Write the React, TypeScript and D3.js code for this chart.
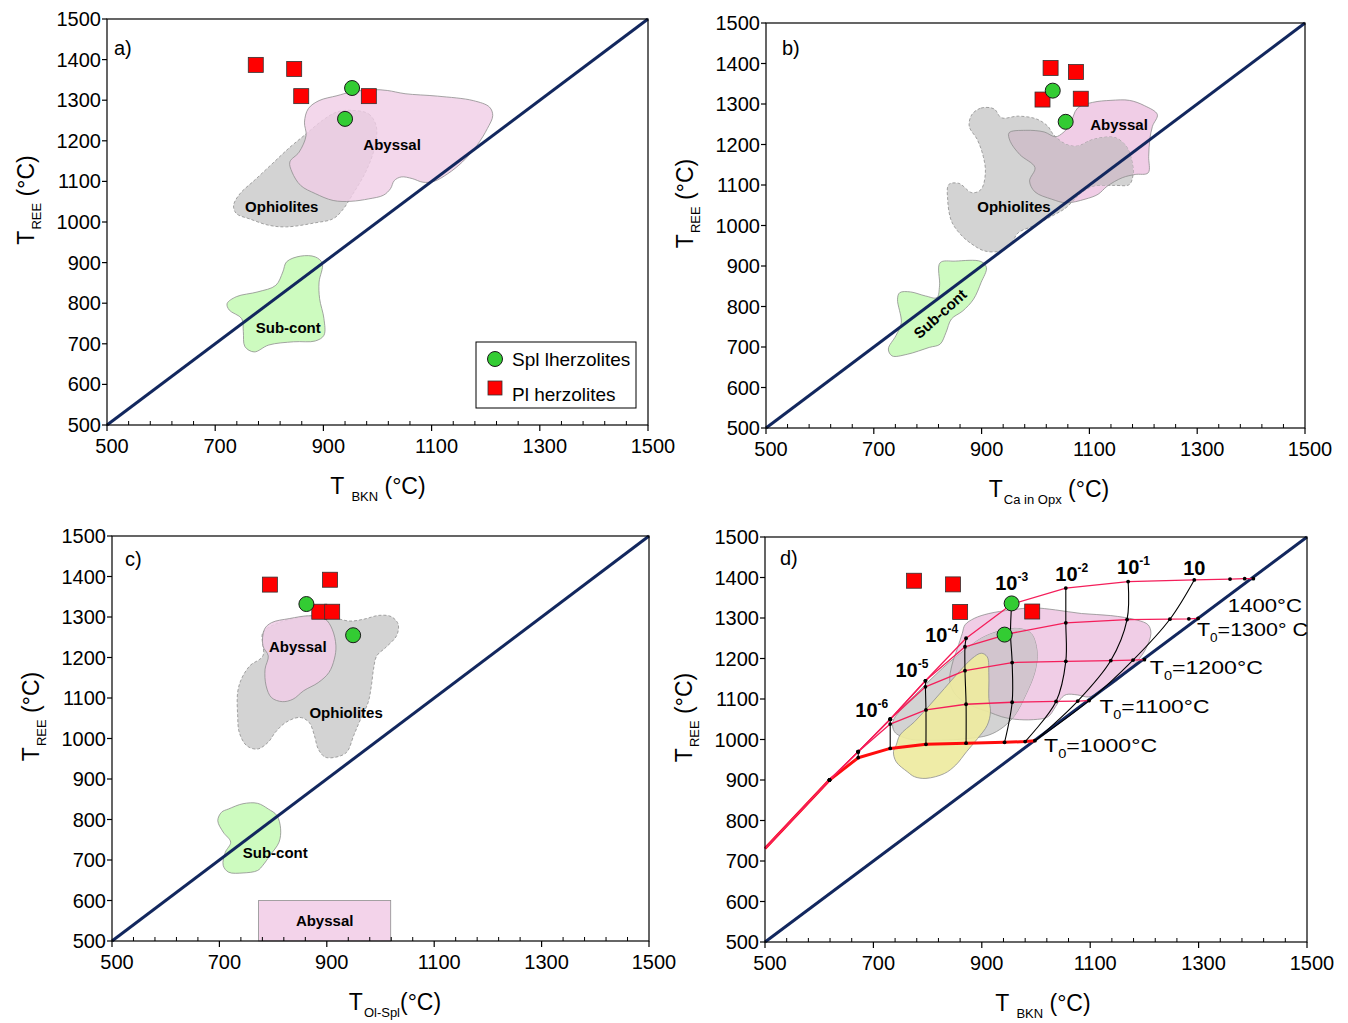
import React from "react";
import * as d3 from "d3";

type Pt = [number, number];

const FONT = "'Liberation Sans', Arial, Helvetica, sans-serif";

// axis ticks (°C)
const X_MAJOR = [500, 700, 900, 1100, 1300, 1500];
const X_MINOR = d3.range(500, 1501, 40).filter((v) => (v - 500) % 200 !== 0);
const Y_TICKS = d3.range(500, 1501, 100);

// samples [T_x, T_REE]
const A_SPL: Pt[] = [[953, 1330], [940, 1254]];
const A_PL: Pt[] = [[775, 1387], [846, 1377], [859, 1310], [984, 1310]];
const B_SPL: Pt[] = [[1032, 1333], [1056, 1256]];
const B_PL: Pt[] = [[1028, 1389], [1075, 1379], [1013, 1311], [1084, 1313]];
const C_SPL: Pt[] = [[862, 1332], [949, 1255]];
const C_PL: Pt[] = [[794, 1380], [906, 1392], [886, 1313], [910, 1313]];
const D_SPL: Pt[] = [[955, 1336], [942, 1259]];
const D_PL: Pt[] = [[775, 1392], [847, 1383], [860, 1315], [993, 1316]];

// fields, panel a
const A_ABYSSAL: Pt[] = [[868, 1213], [865, 1246], [872, 1279], [892, 1299], [925, 1311], [951, 1320], [991, 1326], [1018, 1324], [1051, 1316], [1111, 1310], [1177, 1299], [1207, 1283], [1213, 1262], [1203, 1230], [1184, 1189], [1157, 1148], [1130, 1119], [1104, 1100], [1084, 1098], [1064, 1107], [1044, 1111], [1031, 1102], [1024, 1082], [1011, 1066], [984, 1057], [951, 1051], [918, 1053], [885, 1070], [858, 1090], [842, 1123], [838, 1148], [855, 1172]];
const A_OPHIO: Pt[] = [[951, 1275], [984, 1266], [998, 1234], [994, 1180], [978, 1123], [955, 1070], [935, 1029], [918, 1008], [885, 998], [832, 988], [799, 992], [765, 1007], [739, 1021], [734, 1041], [746, 1070], [772, 1102], [805, 1143], [838, 1184], [868, 1217], [898, 1250], [925, 1271]];
const A_SUBCONT: Pt[] = [[832, 902], [858, 916], [885, 914], [898, 898], [892, 852], [893, 811], [901, 762], [901, 721], [885, 707], [845, 705], [799, 697], [772, 680], [755, 693], [752, 730], [749, 762], [726, 783], [722, 799], [739, 816], [779, 828], [812, 844], [825, 877]];

// fields, panel b
const B_OPHIO: Pt[] = [[882, 1274], [899, 1290], [923, 1288], [937, 1266], [968, 1270], [1002, 1263], [1023, 1245], [1033, 1225], [1057, 1200], [1078, 1196], [1106, 1212], [1147, 1217], [1168, 1196], [1178, 1163], [1181, 1126], [1174, 1101], [1147, 1099], [1106, 1097], [1078, 1073], [1057, 1044], [1030, 1023], [996, 999], [968, 982], [954, 954], [934, 937], [906, 937], [882, 954], [861, 978], [844, 1011], [837, 1065], [839, 1101], [858, 1104], [882, 1081], [899, 1089], [907, 1130], [903, 1171], [892, 1212], [877, 1245]];
const B_ABYSSAL: Pt[] = [[951, 1229], [982, 1235], [1016, 1231], [1037, 1219], [1051, 1229], [1064, 1249], [1078, 1290], [1106, 1304], [1140, 1309], [1174, 1309], [1202, 1296], [1226, 1274], [1217, 1245], [1212, 1212], [1210, 1171], [1209, 1130], [1185, 1126], [1161, 1118], [1133, 1097], [1116, 1077], [1092, 1065], [1057, 1056], [1030, 1065], [999, 1083], [989, 1110], [999, 1143], [971, 1175], [953, 1208]];
const B_SUBCONT: Pt[] = [[823, 908], [851, 912], [899, 911], [909, 896], [899, 859], [885, 818], [865, 789], [844, 769], [834, 736], [823, 707], [803, 699], [762, 682], [734, 678], [727, 695], [741, 728], [751, 760], [744, 818], [748, 834], [768, 836], [796, 826], [817, 822], [822, 851]];

// fields, panel c
const C_OPHIO: Pt[] = [[850, 1299], [877, 1303], [910, 1299], [943, 1290], [970, 1295], [997, 1304], [1020, 1301], [1033, 1282], [1030, 1254], [1010, 1225], [993, 1204], [987, 1171], [983, 1130], [977, 1089], [963, 1048], [950, 1007], [937, 966], [917, 954], [897, 954], [884, 974], [877, 1007], [867, 1040], [850, 1052], [824, 1040], [804, 1015], [791, 991], [771, 974], [751, 982], [737, 1015], [734, 1056], [734, 1114], [741, 1147], [757, 1180], [781, 1204], [781, 1262], [811, 1286]];
const C_ABYSSAL: Pt[] = [[784, 1270], [797, 1286], [830, 1296], [870, 1303], [897, 1295], [910, 1270], [917, 1229], [914, 1196], [904, 1163], [884, 1138], [857, 1118], [837, 1097], [817, 1091], [797, 1101], [787, 1130], [785, 1171], [791, 1204], [781, 1229]];
const C_SUBCONT: Pt[] = [[717, 826], [744, 839], [771, 840], [791, 826], [807, 810], [814, 777], [811, 744], [794, 711], [781, 687], [771, 674], [744, 668], [717, 670], [707, 687], [711, 719], [721, 744], [707, 769], [697, 797], [704, 818]];
const C_ABYSSAL_BOX: [Pt, Pt] = [[773, 500], [1019, 600]];

// fields, panel d
const D_ABYSSAL: Pt[] = [[869, 1283], [886, 1299], [913, 1311], [954, 1320], [995, 1325], [1036, 1320], [1084, 1311], [1138, 1306], [1186, 1295], [1207, 1283], [1212, 1262], [1203, 1225], [1186, 1192], [1162, 1159], [1138, 1134], [1118, 1118], [1097, 1105], [1077, 1110], [1056, 1111], [1046, 1101], [1036, 1081], [1022, 1056], [995, 1049], [961, 1050], [937, 1056], [913, 1068], [879, 1085], [852, 1110], [841, 1143], [845, 1184], [855, 1225], [864, 1262]];
const D_OPHIO: Pt[] = [[739, 1019], [736, 1044], [753, 1077], [783, 1118], [814, 1159], [841, 1192], [869, 1221], [899, 1250], [933, 1268], [968, 1274], [991, 1262], [1002, 1217], [998, 1167], [981, 1110], [961, 1060], [940, 1031], [913, 1011], [872, 1002], [817, 998], [763, 1002]];
const D_YELLOW: Pt[] = [[742, 986], [749, 1011], [776, 1044], [804, 1085], [831, 1126], [858, 1167], [882, 1200], [899, 1213], [910, 1204], [913, 1159], [913, 1101], [916, 1068], [910, 1035], [892, 1002], [872, 970], [852, 937], [831, 916], [797, 904], [776, 908], [763, 920], [742, 945], [737, 970]];

// panel d: cooling paths for initial temperature T0
const D_T0 = [1000, 1100, 1200, 1300, 1400];
const D_ISO: Pt[][] = [
  [[500, 731], [619, 900], [672, 955], [731, 978], [797, 988], [871, 991], [942, 993], [980, 995], [998, 997]],
  [[500, 731], [619, 900], [672, 970], [731, 1038], [797, 1073], [871, 1087], [956, 1092], [1037, 1094], [1077, 1095], [1098, 1096]],
  [[500, 731], [619, 900], [672, 970], [731, 1050], [796, 1130], [869, 1170], [956, 1190], [1055, 1193], [1138, 1195], [1179, 1196], [1200, 1197]],
  [[500, 731], [619, 900], [672, 970], [731, 1050], [796, 1145], [869, 1229], [953, 1262], [1055, 1288], [1168, 1296], [1247, 1297], [1282, 1298], [1299, 1299]],
  [[500, 731], [619, 900], [672, 970], [731, 1050], [796, 1145], [871, 1250], [955, 1334], [1055, 1374], [1170, 1390], [1292, 1394], [1358, 1396], [1385, 1397], [1401, 1397]],
];
// panel d: equal cooling-rate lines (°C/yr)
const D_RATE_EXP = ["-7", "-6", "-5", "-4", "-3", "-2", "-1", "1"];
const D_RATE: Pt[][] = [
  [[672, 955], [672, 970]],
  [[731, 978], [731, 1038], [731, 1050]],
  [[797, 988], [797, 1073], [796, 1130], [796, 1145]],
  [[871, 991], [871, 1087], [869, 1170], [869, 1229], [871, 1250]],
  [[942, 993], [956, 1092], [956, 1190], [953, 1262], [955, 1334]],
  [[980, 995], [1037, 1094], [1055, 1193], [1055, 1288], [1055, 1374]],
  [[998, 997], [1077, 1095], [1138, 1195], [1168, 1296], [1170, 1390]],
  [[998, 997], [1098, 1096], [1179, 1196], [1247, 1297], [1292, 1394]],
];
const D_RATE_LABELS = [
  { exp: "-6", at: [697, 1056] as Pt },
  { exp: "-5", at: [771, 1155] as Pt },
  { exp: "-4", at: [826, 1241] as Pt },
  { exp: "-3", at: [955, 1369] as Pt },
  { exp: "-2", at: [1066, 1392] as Pt },
  { exp: "-1", at: [1180, 1409] as Pt },
  { exp: "", at: [1292, 1406] as Pt },
];
const D_T0_LABELS = [
  { t0: "1400", at: [1354, 1316] as Pt, sub: false, tail: "°C", w: 74 },
  { t0: "1300", at: [1297, 1255] as Pt, sub: true, tail: "° C", w: 111 },
  { t0: "1200", at: [1210, 1162] as Pt, sub: true, tail: "°C", w: 113 },
  { t0: "1100", at: [1117, 1065] as Pt, sub: true, tail: "°C", w: 110 },
  { t0: "1000", at: [1015, 969] as Pt, sub: true, tail: "°C", w: 113 },
];

type Field = { pts: Pt[]; fill: string; dash?: string; opacity?: number };
type Overlap = { pts: Pt[]; clip: Pt[]; fill: string };
type Label = { text: string; at: Pt; rotate?: number };
type Box = { l: number; r: number; t: number; b: number };

const PINK = "#f0cde6";
const GREY = "#d3d3d3";
const GREEN = "#cdfbbf";
const YELLOW = "#eeea9f";
const EDGE = "#8e8e8e";

type PanelCfg = {
  box: Box;
  tag: string;
  tagAt: [number, number];
  sub: string;
  tail: string;
  titleX: number;
  fields: Field[];
  overlaps?: Overlap[];
  top?: Field[];
  labels: Label[];
  spl: Pt[];
  pl: Pt[];
};

const PANELS: PanelCfg[] = [
  {
    box: { l: 107, r: 648, t: 19, b: 425 }, tag: "a)", tagAt: [114, 55], sub: "BKN", tail: " (°C)", titleX: 378,
    fields: [
      { pts: A_OPHIO, fill: GREY, dash: "3 2" },
      { pts: A_ABYSSAL, fill: PINK, opacity: 0.8 },
      { pts: A_SUBCONT, fill: GREEN },
    ],
    labels: [
      { text: "Abyssal", at: [1027, 1190] },
      { text: "Ophiolites", at: [823, 1037] },
      { text: "Sub-cont", at: [835, 739] },
    ],
    spl: A_SPL, pl: A_PL,
  },
  {
    box: { l: 766, r: 1305, t: 23, b: 428 }, tag: "b)", tagAt: [782, 55], sub: "Ca in Opx", tail: " (°C)", titleX: 1049,
    fields: [
      { pts: B_ABYSSAL, fill: PINK },
      { pts: B_OPHIO, fill: GREY, dash: "3 2" },
      { pts: B_SUBCONT, fill: GREEN },
    ],
    overlaps: [{ pts: B_ABYSSAL, clip: B_OPHIO, fill: "#cfc0ca" }],
    labels: [
      { text: "Abyssal", at: [1155, 1250] },
      { text: "Ophiolites", at: [960, 1046] },
      { text: "Sub-cont", at: [823, 782], rotate: -42 },
    ],
    spl: B_SPL, pl: B_PL,
  },
  {
    box: { l: 112, r: 649, t: 536, b: 941 }, tag: "c)", tagAt: [125, 566], sub: "Ol-Spl", tail: "(°C)", titleX: 395,
    fields: [
      { pts: C_OPHIO, fill: GREY, dash: "3 2" },
      { pts: C_ABYSSAL, fill: PINK, opacity: 0.85 },
      { pts: C_SUBCONT, fill: GREEN },
    ],
    labels: [
      { text: "Abyssal", at: [846, 1226] },
      { text: "Ophiolites", at: [936, 1063] },
      { text: "Sub-cont", at: [804, 718] },
      { text: "Abyssal", at: [896, 551] },
    ],
    spl: C_SPL, pl: C_PL,
  },
  {
    box: { l: 765, r: 1307, t: 537, b: 942 }, tag: "d)", tagAt: [780, 565], sub: "BKN", tail: " (°C)", titleX: 1043,
    fields: [
      { pts: D_ABYSSAL, fill: PINK },
      { pts: D_OPHIO, fill: GREY },
    ],
    overlaps: [{ pts: D_ABYSSAL, clip: D_OPHIO, fill: "#d2c5ce" }],
    top: [{ pts: D_YELLOW, fill: YELLOW, opacity: 0.92 }],
    labels: [],
    spl: D_SPL, pl: D_PL,
  },
];

function CoolingGrid({ x, y }: { x: d3.ScaleLinear<number, number>; y: d3.ScaleLinear<number, number> }) {
  const iso = d3.line<Pt>().x((d) => x(d[0])).y((d) => y(d[1]));
  const rate = d3.line<Pt>().x((d) => x(d[0])).y((d) => y(d[1])).curve(d3.curveCatmullRom.alpha(0.5));
  const nodes = D_ISO.flatMap((c) => c.slice(1));
  return (
    <g>
      {D_ISO.map((c, i) => (
        <path key={"iso" + i} d={iso(c) || ""} fill="none"
          stroke={D_T0[i] === 1000 ? "#ff0d0d" : "#f41e5a"}
          strokeWidth={D_T0[i] === 1000 ? 3 : 1.3} strokeLinejoin="round" />
      ))}
      {D_RATE.map((c, i) => (
        <path key={"r" + D_RATE_EXP[i]} d={rate(c) || ""} fill="none" stroke="#000" strokeWidth={1.1} />
      ))}
      {nodes.map((p, i) => (
        <circle key={"n" + i} cx={x(p[0])} cy={y(p[1])} r={1.9} fill="#000" />
      ))}
      {D_RATE_LABELS.map((l, i) => (
        <text key={"rl" + i} x={x(l.at[0])} y={y(l.at[1])} textAnchor="middle" fontWeight="bold" fontSize={20}>
          10{l.exp && <tspan fontSize={12} dy={-9}>{l.exp}</tspan>}
        </text>
      ))}
      {D_T0_LABELS.map((l, i) => (
        <text key={"tl" + i} x={x(l.at[0])} y={y(l.at[1])} fontSize={19} textLength={l.w} lengthAdjust="spacingAndGlyphs">
          {l.sub ? (
            <>
              T<tspan fontSize={12} dy={6}>0</tspan>
              <tspan dy={-6}>={l.t0}{l.tail}</tspan>
            </>
          ) : (
            l.t0 + l.tail
          )}
        </text>
      ))}
    </g>
  );
}

function Panel({ cfg, grid }: { cfg: PanelCfg; grid?: boolean }) {
  const { box } = cfg;
  const x = d3.scaleLinear().domain([500, 1500]).range([box.l, box.r]);
  const y = d3.scaleLinear().domain([500, 1500]).range([box.b, box.t]);
  const blob = d3.line<Pt>().x((d) => x(d[0])).y((d) => y(d[1])).curve(d3.curveCatmullRomClosed.alpha(0.5));
  const cy = (box.t + box.b) / 2 - 22;
  const id = "clip" + cfg.tag.charAt(0);

  const field = (f: Field, key: string) => (
    <path key={key} d={blob(f.pts) || ""} fill={f.fill} fillOpacity={f.opacity ?? 1}
      stroke={EDGE} strokeWidth={0.8} strokeDasharray={f.dash} />
  );

  return (
    <g>
      {cfg.fields.map((f, i) => field(f, "f" + i))}
      {(cfg.overlaps || []).map((o, i) => (
        <g key={"o" + i}>
          <clipPath id={id + i}>
            <path d={blob(o.clip) || ""} />
          </clipPath>
          <path d={blob(o.pts) || ""} fill={o.fill} stroke={EDGE} strokeWidth={0.8} clipPath={`url(#${id + i})`} />
        </g>
      ))}
      {(cfg.top || []).map((f, i) => field(f, "t" + i))}
      {cfg.tag === "c)" && (
        <rect x={x(C_ABYSSAL_BOX[0][0])} y={y(C_ABYSSAL_BOX[1][1])}
          width={x(C_ABYSSAL_BOX[1][0]) - x(C_ABYSSAL_BOX[0][0])}
          height={y(C_ABYSSAL_BOX[0][1]) - y(C_ABYSSAL_BOX[1][1])}
          fill="#f3d3ea" stroke={EDGE} strokeWidth={0.8} />
      )}
      <line x1={x(500)} y1={y(500)} x2={x(1500)} y2={y(1500)} stroke="#12275e" strokeWidth={3} />
      {cfg.labels.map((l, i) => (
        <text key={"l" + i} x={x(l.at[0])} y={y(l.at[1])} dy="0.35em" textAnchor="middle"
          fontWeight="bold" fontSize={15}
          transform={l.rotate ? `rotate(${l.rotate},${x(l.at[0])},${y(l.at[1])})` : undefined}>
          {l.text}
        </text>
      ))}
      {grid && <CoolingGrid x={x} y={y} />}
      {cfg.pl.map((p, i) => (
        <rect key={"pl" + i} x={x(p[0]) - 7.5} y={y(p[1]) - 7.5} width={15} height={15}
          fill="#ff0000" stroke="#333" strokeWidth={0.8} />
      ))}
      {cfg.spl.map((p, i) => (
        <circle key={"sp" + i} cx={x(p[0])} cy={y(p[1])} r={7.5} fill="#33cc33" stroke="#1a1a1a" strokeWidth={1} />
      ))}

      {/* frame and ticks */}
      <rect x={box.l} y={box.t} width={box.r - box.l} height={box.b - box.t} fill="none" stroke="#000" strokeWidth={1.2} />
      {X_MAJOR.map((v) => (
        <g key={"xm" + v}>
          <line x1={x(v)} x2={x(v)} y1={box.b} y2={box.b + 6} stroke="#000" strokeWidth={1.2} />
          <text x={x(v) + 5} y={box.b + 28} textAnchor="middle" fontSize={20}>{v}</text>
        </g>
      ))}
      {X_MINOR.map((v) => (
        <line key={"xn" + v} x1={x(v)} x2={x(v)} y1={box.b} y2={box.b - 4} stroke="#000" strokeWidth={1} />
      ))}
      {Y_TICKS.map((v) => (
        <g key={"y" + v}>
          <line x1={box.l - 5} x2={box.l} y1={y(v)} y2={y(v)} stroke="#000" strokeWidth={1.2} />
          <text x={box.l - 6} y={y(v)} dy="0.35em" textAnchor="end" fontSize={20}>{v}</text>
        </g>
      ))}
      <text x={cfg.tagAt[0]} y={cfg.tagAt[1]} fontSize={20}>{cfg.tag}</text>

      {/* axis titles */}
      <text x={cfg.titleX} y={box.b + 69} textAnchor="middle" fontSize={23}>
        T<tspan fontSize={13} dx={cfg.sub === "BKN" ? 7 : 1} dy={7}>{cfg.sub}</tspan>
        <tspan dy={-7}>{cfg.tail}</tspan>
      </text>
      <text transform={`translate(${box.l - 73},${cy}) rotate(-90)`} textAnchor="middle" fontSize={23}>
        T<tspan fontSize={13} dx={1} dy={7}>REE</tspan>
        <tspan dy={-7}> (°C)</tspan>
      </text>
    </g>
  );
}

function Legend() {
  return (
    <g>
      <rect x={476} y={342} width={160} height={66} fill="#fff" stroke="#000" strokeWidth={1} />
      <circle cx={495} cy={359} r={7.5} fill="#33cc33" stroke="#1a1a1a" strokeWidth={1} />
      <text x={512} y={366} fontSize={19}>Spl lherzolites</text>
      <rect x={488} y={381} width={14} height={14} fill="#ff0000" stroke="#333" strokeWidth={0.8} />
      <text x={512} y={401} fontSize={19}>Pl herzolites</text>
    </g>
  );
}

export default function App() {
  return (
    <svg width={1348} height={1023} viewBox="0 0 1348 1023"
      style={{ position: "absolute", left: 0, top: 0, background: "#fff", fontFamily: FONT }}>
      <rect width={1348} height={1023} fill="#fff" />
      {PANELS.map((p, i) => (
        <Panel key={p.tag} cfg={p} grid={i === 3} />
      ))}
      <Legend />
    </svg>
  );
}
